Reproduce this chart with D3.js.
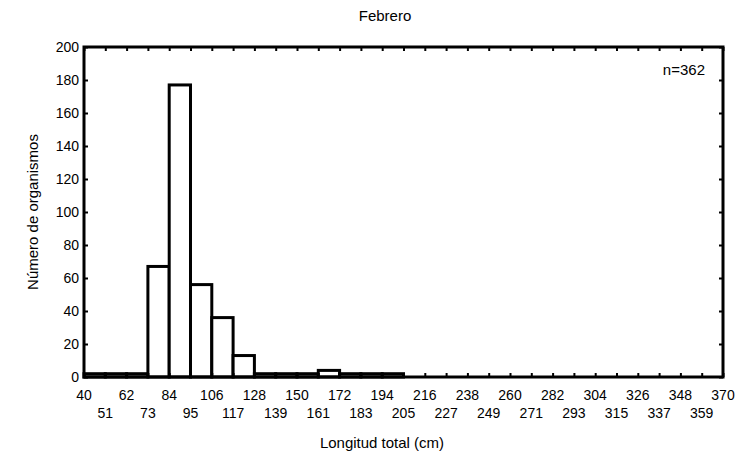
<!DOCTYPE html>
<html>
<head>
<meta charset="utf-8">
<script src="https://cdn.jsdelivr.net/npm/d3@7/dist/d3.min.js"></script>
<style>
body { margin: 0; background: #fff; }
text { font-family: "Liberation Sans", Arial, sans-serif; fill: #000; }
</style>
</head>
<body>
<div id="chart"></div>
<script>
var width = 736;
var height = 456;
var margin = {left: 84, right: 13, top: 47, bottom: 79};

// bin edges (cm) and counts
var binEdges = [40, 51, 62, 73, 84, 95, 106, 117, 128, 139, 150, 161, 172, 183, 194, 205,
	216, 227, 238, 249, 260, 271, 282, 293, 304, 315, 326, 337, 348, 359, 370];
var counts = [2, 2, 2, 67, 177, 56, 36, 13, 2, 2, 2, 4, 2, 2, 2,
	0, 0, 0, 0, 0, 0, 0, 0, 0, 0, 0, 0, 0, 0, 0];
var yTicks = [0, 20, 40, 60, 80, 100, 120, 140, 160, 180, 200];

var title = "Febrero";
var xTitle = "Longitud total (cm)";
var yTitle = "Número de organismos";
var note = "n=362";

var x = d3.scaleLinear().domain([40, 370]).range([margin.left, width - margin.right]);
var y = d3.scaleLinear().domain([0, 200]).range([height - margin.bottom, margin.top]);

var svg = d3.select("#chart").append("svg")
	.attr("width", width)
	.attr("height", height);

// bars (only non-empty bins)
var bins = counts.map(function (c, i) { return {x0: binEdges[i], x1: binEdges[i + 1], n: c}; });
svg.append("g").selectAll("rect")
	.data(bins.filter(d => d.n > 0))
	.enter().append("rect")
	.attr("x", d => x(d.x0))
	.attr("y", d => y(d.n))
	.attr("width", d => x(d.x1) - x(d.x0))
	.attr("height", d => y(0) - y(d.n))
	.attr("fill", "#fff")
	.attr("stroke", "#000")
	.attr("stroke-width", 3);

// axes, ticks pointing inward on all four sides
var tickLen = 4;
function styleAxis(g) {
	g.select(".domain").remove();
	g.selectAll(".tick line").attr("stroke", "#000").attr("stroke-width", 2);
}
svg.append("g")
	.attr("transform", `translate(0,${y(0)})`)
	.call(d3.axisBottom(x).tickValues(binEdges).tickSize(-tickLen).tickFormat(""))
	.call(styleAxis);
svg.append("g")
	.attr("transform", `translate(0,${y(200)})`)
	.call(d3.axisTop(x).tickValues(binEdges).tickSize(-tickLen).tickFormat(""))
	.call(styleAxis);
svg.append("g")
	.attr("transform", `translate(${x(40)},0)`)
	.call(d3.axisLeft(y).tickValues(yTicks).tickSize(-tickLen).tickPadding(5))
	.call(styleAxis)
	.selectAll("text").attr("font-family", null).style("font-size", "14px");
svg.append("g")
	.attr("transform", `translate(${x(370)},0)`)
	.call(d3.axisRight(y).tickValues(yTicks).tickSize(-tickLen).tickFormat(""))
	.call(styleAxis);

// frame
svg.append("rect")
	.attr("x", x(40)).attr("y", y(200))
	.attr("width", x(370) - x(40)).attr("height", y(0) - y(200))
	.attr("fill", "none").attr("stroke", "#000").attr("stroke-width", 3);

// x labels in two staggered rows
svg.append("g").selectAll("text")
	.data(binEdges)
	.enter().append("text")
	.attr("x", d => x(d))
	.attr("y", (d, i) => i % 2 == 0 ? y(0) + 23 : y(0) + 41)
	.attr("text-anchor", "middle")
	.style("font-size", "14px")
	.text(d => d);

svg.append("text")
	.attr("x", 382).attr("y", 448)
	.attr("text-anchor", "middle").style("font-size", "15px")
	.text(xTitle);

svg.append("text")
	.attr("transform", `translate(38,${(y(0) + y(200)) / 2}) rotate(-90)`)
	.attr("text-anchor", "middle").style("font-size", "15px")
	.text(yTitle);

svg.append("text")
	.attr("x", 385).attr("y", 21)
	.attr("text-anchor", "middle").style("font-size", "15px")
	.text(title);

svg.append("text")
	.attr("x", 705).attr("y", 75)
	.attr("text-anchor", "end").style("font-size", "15px")
	.text(note);
</script>
</body>
</html>
